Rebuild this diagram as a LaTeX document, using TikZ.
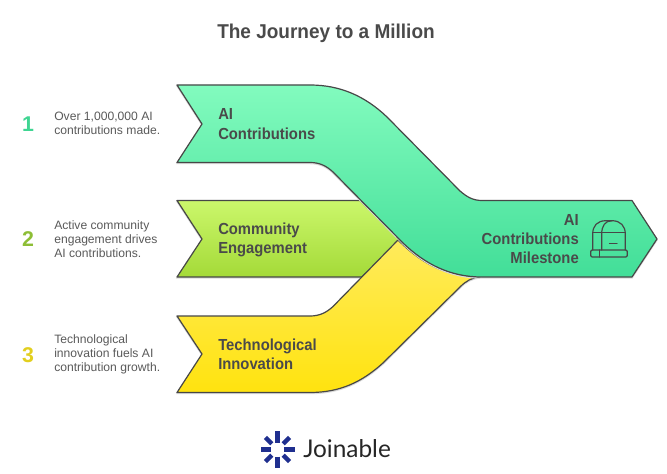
\documentclass[tikz,border=0pt]{standalone}
\usepackage{fontspec}
\usetikzlibrary{calc}
\setmainfont{Liberation Sans}
\newfontfamily\boldfont[FakeStretch=0.925]{Liberation Sans Bold}
\newfontfamily\titlefont[FakeStretch=0.95]{Liberation Sans Bold}
\newfontfamily\logofont{Lato}
\definecolor{ink}{HTML}{4A4A4A}
\definecolor{desc}{HTML}{5A5A5A}
\definecolor{edge}{HTML}{474747}
\definecolor{logoblue}{HTML}{1F2F8F}
\definecolor{aitop}{HTML}{82FBBE}
\definecolor{aibot}{HTML}{42DE98}
\definecolor{cotop}{HTML}{CBF76B}
\definecolor{cobot}{HTML}{A4DA38}
\definecolor{tetop}{HTML}{FFEB5C}
\definecolor{tebot}{HTML}{FFE30F}
\definecolor{numa}{HTML}{3FD592}
\definecolor{numb}{HTML}{8DBE36}
\definecolor{numc}{HTML}{E2CF1E}
\tikzset{
 x=0.75pt,y=-0.75pt,
 band/.style={draw=edge,line width=0.9pt,line join=round},
 shadowline/.style={draw=black!14,line width=1pt},
 lab/.style={font=\boldfont\fontsize{12}{14.4}\selectfont,text=ink,inner sep=0pt,anchor=west,align=left},
 labr/.style={font=\boldfont\fontsize{12}{14.4}\selectfont,text=ink,inner sep=0pt,anchor=east,align=right},
 num/.style={font=\bfseries\fontsize{16}{18}\selectfont,inner sep=0pt},
 dsc/.style={font=\fontsize{9.1}{10.5}\selectfont,text=desc,inner sep=0pt,anchor=west,align=left},
 icon/.style={draw=edge,line width=0.9pt,line join=round,line cap=round},
 logobar/.style={draw=logoblue,line width=3.4pt}
}
\def\pathAI{(177,85) -- (310,85) .. controls (340,85) and (365,96) .. (387,117) -- (460,191) .. controls (467,197) and (473,200.5) .. (482,200.5) -- (632,200.5) -- (657,239) -- (632,277) -- (482,277) .. controls (450,277) and (425,264) .. (403,243) -- (333,172) .. controls (326,165.5) and (319,162.5) .. (310,162.5) -- (177,162.5) -- (202,124) -- cycle}
\def\pathCO{(177,200.5) -- (360,200.5) -- (400,240) -- (362,277) -- (177,277) -- (202,239) -- cycle}
\def\pathTE{(177,316) -- (310,316) .. controls (319,316) and (326,313) .. (333,306.5) -- (398,240) .. controls (420,262) and (445,277) .. (480,277) .. controls (472,277.5) and (466,281) .. (460,287) -- (383,363) .. controls (362,382) and (340,392.5) .. (310,392.5) -- (177,392.5) -- (202,354) -- cycle}
\begin{document}
\begin{tikzpicture}
\useasboundingbox (0,0) rectangle (667,474);
\fill[white] (0,0) rectangle (667,474);
\node[font=\titlefont\fontsize{15}{18}\selectfont,text=ink,inner sep=0pt] (title) at (326,33.5) {The Journey to a Million};
% bands
\draw[shadowline,yshift=-0.8pt] \pathCO;
\shade[band,top color=cotop,bottom color=cobot] \pathCO;
\draw[shadowline,yshift=-0.8pt] \pathTE;
\shade[band,top color=tetop,bottom color=tebot] \pathTE;
\draw[shadowline,yshift=-0.8pt] \pathAI;
\shade[band,top color=aitop,bottom color=aibot] \pathAI;
% band labels
\node[lab] (lai) at (218,124) {AI\\Contributions};
\node[lab] (lco) at (218,240) {Community\\Engagement};
\node[lab] (lte) at (218,354) {Technological\\Innovation};
\node[labr] (lmi) at (579,239) {AI\\Contributions\\Milestone};
% numbers and descriptions
\node[num,text=numa] (n1) at (28,124) {1};
\node[num,text=numb] (n2) at (28,239) {2};
\node[num,text=numc] (n3) at (28,355) {3};
\node[dsc] (d1) at (54,123.5) {Over 1,000,000 AI\\contributions made.};
\node[dsc] (d2) at (54,239) {Active community\\engagement drives\\AI contributions.};
\node[dsc] (d3) at (54,354) {Technological\\innovation fuels AI\\contribution growth.};
% observatory icon
\draw[icon,rounded corners=1pt] (590.7,250) rectangle (627.3,257);
\draw[icon] (599.3,250) -- (599.3,257);
\draw[icon] (592.7,250) -- (592.7,234) .. controls (592.7,226) and (597,220.7) .. (606,220.7) -- (612,220.7) .. controls (620.5,220.7) and (625.3,226) .. (625.3,234) -- (625.3,250);
\draw[icon] (601.7,250) -- (601.7,234) .. controls (601.7,226) and (605,220.7) .. (612,220.7);
\draw[icon] (592.7,232.5) -- (625.3,232.5);
\draw[icon] (609.5,243.3) -- (617,243.3);
% logo
\coordinate (lc) at (277.5,449.5);
\foreach \a/\ra/\rb in {0/6.5/17,90/7/18.5,180/6.5/17,270/7/18.5,45/8/17,135/8/17,225/8/17,315/8/17}{
  \draw[logobar] ($(lc)+(\a:\ra)$) -- ($(lc)+(\a:\rb)$);
}
\node[font=\logofont\fontsize{18.3}{20}\selectfont,text=black!85,inner sep=0pt,anchor=base west] (logo) at (303,457.3) {Joinable};
\end{tikzpicture}
\end{document}
